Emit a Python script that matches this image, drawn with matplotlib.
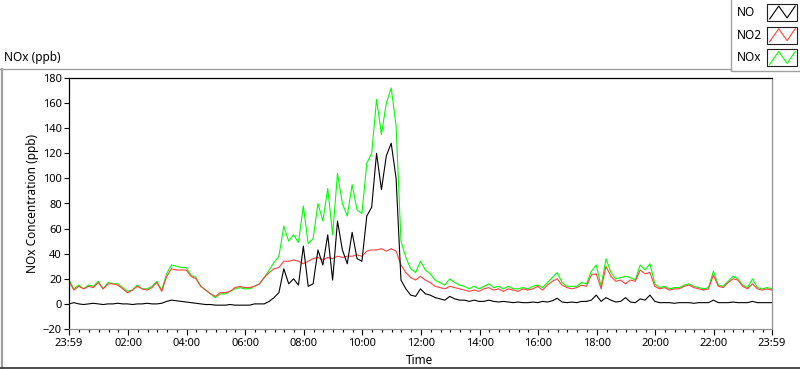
import numpy as np
import matplotlib

matplotlib.use("Agg")
import matplotlib.pyplot as plt
from matplotlib.lines import Line2D
from matplotlib.patches import Rectangle

plt.rcParams["font.family"] = ["Noto Sans", "DejaVu Sans"]

W, H = 800, 369

# sample times: minutes after 23:59, 10 minute averages
minutes = np.arange(0, 1441, 10)

# NO (ppb)
no = [
    0, 1, 0, -0.5, 0, 0.5, 0, -0.5, 0, 0, 0.5, 0,
    0, -0.5, 0, 0, 0.5, 0, 0, 0.5, 2, 3, 2.5, 2,
    1.5, 1, 0.5, 0, -0.5, -0.5, -1, -1, -1, -0.5, -1, -1,
    -1, -1, 0, 0, 0, 2, 5, 9, 28, 16, 20, 15,
    46, 14, 16, 43, 31, 55, 19, 66, 43, 32, 57, 36,
    34, 70, 77, 120, 91, 118, 128, 100, 19, 12, 7, 6,
    12, 8, 7, 5, 4, 3, 6, 4, 3, 3, 2, 3,
    2, 2, 3, 2, 1.5, 2, 1.5, 1, 1.5, 1, 1, 1.5,
    1, 2, 1.5, 2.5, 4.5, 1.5, 1, 1.5, 1, 2, 2, 3,
    7, 2, 5, 3, 1.5, 2, 5, 1.5, 1, 4, 3, 7,
    2, 1, 1, 1, 0.5, 1, 1, 1, 0.5, 1, 1, 1,
    3, 1, 1, 1, 1.5, 1, 1, 1, 2, 1, 1, 1,
    1,
]

# NO2 (ppb)
no2 = [
    18, 11, 14, 12, 14, 13, 17, 12, 16, 16, 15, 12,
    9, 11, 14, 12, 11, 13, 17, 10, 22, 28, 27, 27,
    27, 22, 20, 14, 11, 8, 6, 9, 9, 10, 13, 14,
    13, 13, 14, 16, 21, 25, 28, 29, 34, 34, 35, 34,
    32, 34, 36, 37, 35, 37, 36, 38, 37, 38, 38, 39,
    38, 42, 43, 43, 44, 42, 44, 42, 31, 25, 21, 19,
    22, 19, 17, 14, 13, 12, 14, 13, 12, 11, 10, 11,
    10, 12, 13, 11, 12, 10, 12, 11, 10, 12, 11, 12,
    14, 11, 15, 18, 20, 15, 13, 12, 13, 15, 14, 23,
    24, 12, 30, 22, 18, 19, 16, 19, 18, 27, 24, 25,
    14, 12, 13, 11, 12, 12, 14, 15, 13, 12, 11, 12,
    23, 14, 13, 17, 20, 19, 14, 12, 16, 12, 11, 12,
    11,
]

# NOx (ppb)
nox = [
    19, 12, 15, 12, 15, 14, 18, 12, 17, 16, 16, 13,
    10, 11, 15, 12, 12, 14, 18, 11, 24, 31, 30, 29,
    29, 23, 21, 14, 11, 8, 5, 8, 8, 10, 12, 13,
    12, 12, 14, 16, 21, 27, 33, 38, 62, 50, 55, 49,
    78, 48, 52, 80, 66, 92, 55, 104, 80, 70, 95, 75,
    72, 112, 120, 163, 135, 160, 172, 142, 50, 37, 28, 25,
    34, 27, 24, 19, 17, 15, 20, 17, 15, 14, 12, 14,
    12, 14, 16, 13, 14, 12, 14, 12, 12, 13, 12, 14,
    15, 13, 17, 21, 25, 17, 14, 14, 14, 17, 16, 26,
    31, 14, 36, 25, 20, 21, 22, 21, 19, 31, 27, 32,
    16, 13, 14, 12, 13, 13, 15, 16, 14, 13, 12, 13,
    26, 15, 14, 18, 22, 20, 15, 13, 20, 13, 12, 13,
    12,
]

tick_minutes = [0, 121, 241, 361, 481, 601, 721, 841, 961, 1081, 1201, 1321, 1440]
tick_labels = ["23:59", "02:00", "04:00", "06:00", "08:00", "10:00", "12:00",
               "14:00", "16:00", "18:00", "20:00", "22:00", "23:59"]

series_names = ["NO", "NO2", "NOx"]
series_colors = ["black", "#ff4040", "#00ff00"]


def fx(px):
    return px / W


def fy(py):
    # pixel row measured from the top of the image
    return 1 - py / H


fig = plt.figure(figsize=(W / 100, H / 100), dpi=100)
ax = fig.add_axes([fx(69), 40 / H, 703 / W, 251 / H])

# green underneath, black on top
for vals, color in zip([nox, no2, no], series_colors[::-1]):
    ax.plot(minutes, vals, color=color, lw=0.8)

ax.set_xlim(0, 1440)
ax.set_ylim(-20, 180)
ax.set_yticks(np.arange(-20, 181, 20))
ax.set_xticks(tick_minutes)
ax.set_xticklabels(tick_labels)
ax.set_xticks(np.arange(21, 1440, 20), minor=True)

ax.tick_params(axis="both", which="major", labelsize=8, width=0.8, color="black")
ax.tick_params(axis="y", length=3.6, pad=1.5)
ax.tick_params(axis="x", which="major", length=4.3, pad=2)
ax.tick_params(axis="x", which="minor", length=2.2, width=0.8)

for side in ["left", "top"]:
    ax.spines[side].set_color("black")
    ax.spines[side].set_linewidth(0.9)
for side in ["right", "bottom"]:
    ax.spines[side].set_color("#909090")
    ax.spines[side].set_linewidth(0.9)

ax.set_ylabel("NOx Concentration (ppb)", fontsize=8.5, va="center")
ax.yaxis.set_label_coords(-36 / 703, 0.5)
ax.set_xlabel("Time", fontsize=8.5, va="center")
ax.xaxis.set_label_coords(0.498, -32 / 251)

fig.text(fx(4), fy(57), "NOx (ppb)", fontsize=8.5, ha="left", va="center")

# panel frame
fig.add_artist(Line2D([0, fx(731)], [fy(69), fy(69)], transform=fig.transFigure,
                      color="#a0a0a0", lw=1.0))
fig.add_artist(Line2D([fx(1.5), fx(1.5)], [fy(367.5), fy(69)], transform=fig.transFigure,
                      color="#a0a0a0", lw=1.6))
fig.add_artist(Line2D([0, 1], [fy(367.5), fy(367.5)], transform=fig.transFigure,
                      color="#303030", lw=1.2))

# plot legend, LabVIEW style: name on the left, framed swatch on the right
fig.add_artist(Rectangle((fx(731), fy(71)), fx(80), 80 / H, transform=fig.transFigure,
                         fill=False, ec="#a0a0a0", lw=1.0))
zig_x = np.array([0.09, 0.39, 0.67, 0.94])
zig_y = np.array([0.12, 0.88, 0.18, 0.88])
for i, (name, color) in enumerate(zip(series_names, series_colors)):
    box_top = 4 + 22.7 * i
    fig.text(fx(737), fy(box_top + 8.5), name, fontsize=8.5, ha="left", va="center")
    fig.add_artist(Rectangle((fx(767), fy(box_top + 17)), 30 / W, 17 / H,
                             transform=fig.transFigure, fill=False, ec="#202020", lw=0.8))
    fig.add_artist(Line2D(fx(767 + 30 * zig_x), fy(box_top + 17 - 17 * zig_y),
                          transform=fig.transFigure, color=color, lw=0.8))

fig.savefig("out.png", dpi=100, facecolor="white")
